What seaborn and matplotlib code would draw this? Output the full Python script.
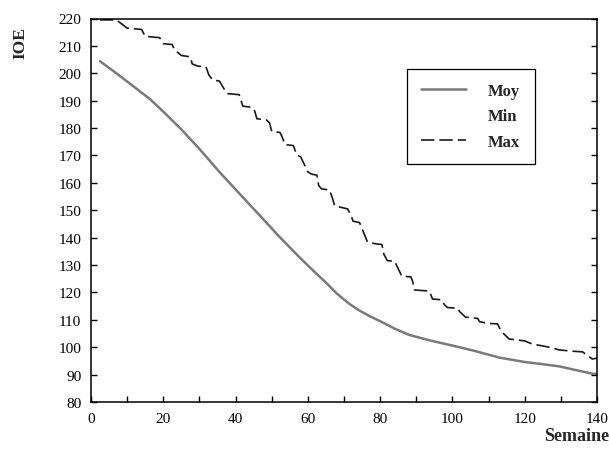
import numpy as np
import pandas as pd
import matplotlib
matplotlib.use("Agg")
import matplotlib.pyplot as plt
from matplotlib.lines import Line2D
import seaborn as sns

# ---- data ----
moy_x = [2.5, 6, 10, 16.3, 20, 25, 30, 35.6, 40, 47.6, 52, 57.7, 62, 65, 68, 71.5, 74, 77, 80, 84, 88, 94,
         100, 106, 113, 120, 125, 129.6, 134, 138.8, 140]
moy_y = [204.4, 201, 197, 190.6, 186, 179.5, 172.4, 163.9, 157.6, 146.8, 140.5, 132.8, 127.3, 123.6, 119.6, 115.8,
         113.6, 111.4, 109.5, 106.8, 104.5, 102.4, 100.6, 98.7, 96.2, 94.6, 93.8, 93, 91.7, 90.3, 90.3]

max_x = [2.5, 7, 10, 14, 15, 19, 20, 22.5, 23, 25, 27.5, 28, 29.6, 31.8, 32.6, 33.7, 35.5, 36.5, 37.6, 41,
         42, 44.5, 45.3, 45.9, 48.5, 49.4, 50, 52.3, 53, 53.6, 56, 56.9, 58, 60, 61, 62.5, 63, 63.8, 66, 66.9,
         67.4, 71, 72, 72.5, 74.3, 76.5, 79, 80.5, 81, 82, 84, 84.8, 86, 88.5, 89, 89.5, 93.6, 94.5, 97, 97.8,
         98.6, 101.5, 102, 103.6, 107, 107.5, 110, 112.5, 113.5, 115.7, 120, 122, 126.8, 129.6, 133.7, 136, 138.7, 140]
max_y = [219.5, 219.5, 216.5, 216, 213.5, 213, 210.8, 210.5, 208.7, 206.5, 206, 203.4, 202.6, 202.4, 199.4, 197.5, 197.2, 195, 192.6, 192.2,
         188, 187.6, 186.2, 183.4, 183, 181.9, 178.8, 178.4, 176.4, 174, 173.6, 170.2, 169.5, 164, 163.2, 162.8, 159, 157.8, 157.4, 154,
         151.6, 150.5, 148, 146, 145.5, 138.4, 137.7, 137.5, 134, 131.6, 131.4, 129.2, 125.9, 125.7, 124, 120.9, 120.5, 117.6, 117.3, 115.5,
         114.5, 114.2, 113, 111, 110.5, 109.3, 108.7, 108.5, 105.8, 103, 102.3, 101.2, 100, 99, 98.5, 98.3, 95.7, 96]

x_ticks = [0, 20, 40, 60, 80, 100, 120, 140]
y_ticks = [80, 90, 100, 110, 120, 130, 140, 150, 160, 170, 180, 190, 200, 210, 220]
legend_labels = ["Moy", "Min", "Max"]
x_label = "Semaine"
y_label = "IOE"

df_moy = pd.DataFrame({"Semaine": moy_x, "IOE": moy_y})
df_max = pd.DataFrame({"Semaine": max_x, "IOE": max_y})

sns.set_style("ticks")
plt.rcParams["font.family"] = ["Liberation Serif", "DejaVu Serif"]

fig = plt.figure(figsize=(6.09, 4.60), dpi=100)
ax = fig.add_axes([91 / 609, 1 - 403 / 460, (597 - 91) / 609, (403 - 19.5) / 460])

moy_color = "#7a7a7a"
max_color = "#1a1a1a"
max_ls = (0, (8, 3))

sns.lineplot(data=df_moy, x="Semaine", y="IOE", ax=ax, color=moy_color, lw=1.8, sort=False, estimator=None)
sns.lineplot(data=df_max, x="Semaine", y="IOE", ax=ax, color=max_color, lw=1.2, sort=False, estimator=None,
             linestyle=max_ls)

ax.set_xlim(0, 140)
ax.set_ylim(80, 220)
ax.set_xticks(x_ticks)
ax.set_xticks(np.arange(0, 141, 10), minor=True)
ax.set_yticks(y_ticks)
ax.tick_params(axis="both", which="both", direction="in", length=4, width=1, colors="black",
               labelsize=11, right=True)
ax.tick_params(axis="x", which="major", pad=7)
ax.tick_params(axis="y", which="major", pad=7)
for s in ax.spines.values():
    s.set_visible(True)
    s.set_linewidth(1.1)
    s.set_color("black")

ax.set_xlabel("")
ax.set_ylabel("")
fig.text(20 / 609, 1 - 43 / 460, y_label, rotation=90, fontsize=12.5, fontweight="bold",
         ha="center", va="center")
fig.text(609 / 609, 1 - 437 / 460, x_label, fontsize=13, fontweight="bold", ha="right", va="center")

handles = [
    Line2D([], [], color=moy_color, lw=1.8),
    Line2D([], [], linestyle="None"),
    Line2D([], [], color=max_color, lw=1.2, linestyle=max_ls),
]
leg = ax.legend(handles, legend_labels, loc="upper left", bbox_to_anchor=(0.625, 0.868),
                frameon=True, fancybox=False, shadow=False, framealpha=1,
                prop={"family": "Liberation Serif", "weight": "bold", "size": 12},
                handlelength=2.7, handletextpad=1.3, borderpad=0.85, labelspacing=0.55,
                borderaxespad=0)
leg.get_frame().set_edgecolor("black")
leg.get_frame().set_linewidth(0.9)

fig.savefig("out.png", dpi=100)
